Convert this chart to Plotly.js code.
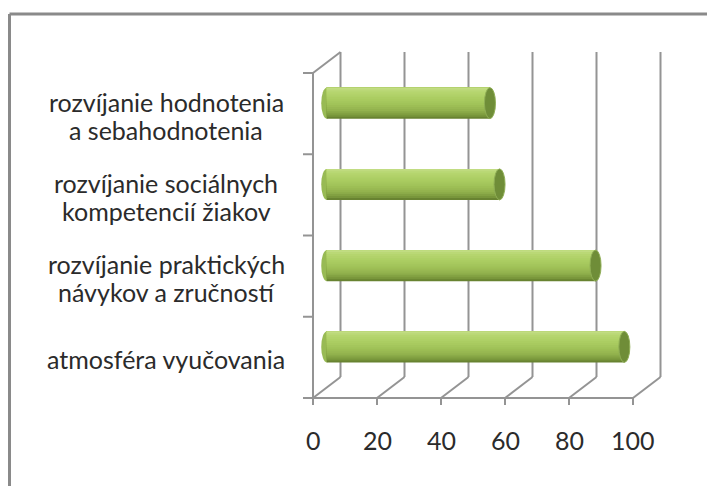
<!DOCTYPE html>
<html>
<head>
<meta charset="utf-8">
<script src="https://cdn.plot.ly/plotly-3.0.1.min.js"></script>
<style>html,body{margin:0;padding:0;background:#fff;}#chart{width:707px;height:486px;}</style>
</head>
<body>
<div id="chart"></div>
<script>
// ---- data ----
var categories = [
  'atmosféra vyučovania',
  'rozvíjanie praktických<br>návykov a zručností',
  'rozvíjanie sociálnych<br>kompetencií žiakov',
  'rozvíjanie hodnotenia<br>a sebahodnotenia'
];
var values = [93, 84, 54, 51];
var xTicks = [0, 20, 40, 60, 80, 100];
var xTickLabels = ['0', '20', '40', '60', '80', '100'];

// ---- geometry (pixels) ----
var W = 707, H = 486;
var X0 = 313, SX = 3.2;      // front plane: value 0 at px 313, 3.2 px per unit
var Y0 = 398, SY = 81.25;    // front plane: slot 0 at px 398, 81.25 px per slot
var DXu = 27.5 / SX;         // depth offset in value units
var DYu = 21 / SY;           // depth offset in slot units
var barH = 31 / SY;
var capHalf = 5.5 / SX;
var nSlots = categories.length;
var vMax = xTicks[xTicks.length - 1];

var FONT = 'Lato, Calibri, "Noto Sans", sans-serif';
var TXT = '#2b2b2b';
var GRID = '#949494';

function py(pixel) { return (Y0 - pixel) / SY; }

// ---- bars (cylinders) on the mid-depth plane ----
var base = DXu / 2;
var centers = categories.map(function (c, i) { return i + 0.5 + DYu / 2; });

var stops = [
  [0.00, [196, 222, 136]],
  [0.12, [183, 214, 113]],
  [0.32, [172, 206, 99]],
  [0.55, [160, 194, 88]],
  [0.75, [144, 176, 76]],
  [0.90, [122, 152, 60]],
  [1.00, [96, 122, 44]]
];
function colAt(t) {
  for (var k = 0; k < stops.length - 1; k++) {
    if (t <= stops[k + 1][0]) {
      var a = stops[k], b = stops[k + 1];
      var f = (t - a[0]) / (b[0] - a[0]);
      var c = a[1].map(function (v, j) { return Math.round(v + (b[1][j] - v) * f); });
      return 'rgb(' + c.join(',') + ')';
    }
  }
  var l = stops[stops.length - 1][1];
  return 'rgb(' + l.join(',') + ')';
}

var traces = [];
var N = 16;
for (var k = 0; k < N; k++) {
  var start = -barH / 2 + k * barH / N;
  var tTop = 1 - (k + 0.5) / N;
  traces.push({
    type: 'bar', orientation: 'h',
    y: centers, x: values, base: base,
    width: barH / 2 - start, offset: start,
    marker: { color: colAt(tTop), line: { width: 0 } },
    hoverinfo: 'skip', showlegend: false
  });
}

// ---- frame shapes ----
var shapes = [];
function line(x0, y0, x1, y1, color, w, layer) {
  shapes.push({ type: 'line', xref: 'x', yref: 'y', x0: x0, y0: y0, x1: x1, y1: y1,
    line: { color: color || GRID, width: w || 2 }, layer: layer || 'below' });
}
xTicks.forEach(function (v) {
  line(v + DXu, DYu, v + DXu, nSlots + DYu);
  line(v, 0, v + DXu, DYu);
  line(v, 0, v, -7 / SY);
});
line(0, 0, 0, nSlots);
line(0, 0, vMax, 0);
line(0, nSlots, DXu, nSlots + DYu);
for (var i = 0; i <= nSlots; i++) line(-10 / SX, i, 0, i);

values.forEach(function (v, i) {
  shapes.push({ type: 'circle', xref: 'x', yref: 'y',
    x0: base - capHalf, x1: base + capHalf, y0: centers[i] - barH / 2, y1: centers[i] + barH / 2,
    fillcolor: '#98ba54', line: { width: 0 }, layer: 'below' });
  shapes.push({ type: 'circle', xref: 'x', yref: 'y',
    x0: base + v - capHalf, x1: base + v + capHalf, y0: centers[i] - barH / 2, y1: centers[i] + barH / 2,
    fillcolor: '#6f8d38', line: { color: '#8fae55', width: 1 }, layer: 'above' });
});

// outer chart border
shapes.push({ type: 'line', xref: 'paper', yref: 'paper', x0: 9.5 / W, x1: 9.5 / W, y0: 1 - 14 / H, y1: -0.1,
  line: { color: '#8a8a8a', width: 3 } });
shapes.push({ type: 'line', xref: 'paper', yref: 'paper', x0: 9.5 / W, x1: 1.1, y0: 1 - 14 / H, y1: 1 - 14 / H,
  line: { color: '#8a8a8a', width: 3 } });

// ---- text ----
var annotations = [];
xTicks.forEach(function (v, j) {
  annotations.push({ xref: 'x', yref: 'y', x: v, y: py(440), text: xTickLabels[j],
    showarrow: false, xanchor: 'center', yanchor: 'middle',
    font: { family: FONT, size: 25, color: TXT } });
});
categories.forEach(function (c, i) {
  var lines = c.split('<br>');
  var n = lines.length;
  lines.forEach(function (t, j) {
    var offPx = (j - (n - 1) / 2) * 28 + 2;
    annotations.push({ xref: 'paper', yref: 'y', x: 166 / W, y: i + 0.5 - offPx / SY, text: t,
      showarrow: false, xanchor: 'center', yanchor: 'middle',
      font: { family: FONT, size: 25, color: TXT } });
  });
});

var layout = {
  width: W, height: H,
  margin: { l: 0, r: 0, t: 0, b: 0, pad: 0 },
  paper_bgcolor: '#ffffff', plot_bgcolor: '#ffffff',
  barmode: 'overlay',
  showlegend: false,
  xaxis: { range: [-X0 / SX, (W - X0) / SX], visible: false, fixedrange: true },
  yaxis: { range: [(Y0 - H) / SY, Y0 / SY], visible: false, fixedrange: true },
  shapes: shapes,
  annotations: annotations
};

Plotly.newPlot('chart', traces, layout, { staticPlot: true, displayModeBar: false });
</script>
</body>
</html>
